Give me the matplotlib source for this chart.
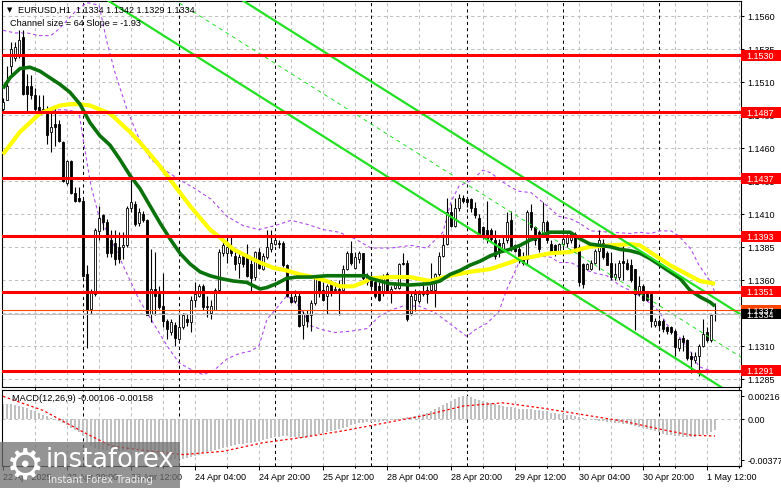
import matplotlib
matplotlib.use("Agg")
import matplotlib.pyplot as plt
import matplotlib.transforms as mtransforms
from matplotlib.patches import Rectangle
import numpy as np

W, H = 781, 489

# hourly candles, 22 Apr 04:00 -> 1 May 14:00
opens = [1.1489, 1.1496, 1.1522, 1.1528, 1.1531, 1.1544, 1.1507, 1.1507, 1.1500, 1.1491,
         1.1489, 1.1486, 1.1472, 1.1478, 1.1478, 1.1464, 1.1433, 1.1450, 1.1426, 1.1422,
         1.1420, 1.1364, 1.1338, 1.1349, 1.1397, 1.1409, 1.1404, 1.1390, 1.1388, 1.1385,
         1.1385, 1.1386, 1.1414, 1.1417, 1.1403, 1.1410, 1.1405, 1.1334, 1.1353, 1.1349,
         1.1340, 1.1329, 1.1320, 1.1326, 1.1315, 1.1324, 1.1330, 1.1328, 1.1345, 1.1348,
         1.1355, 1.1339, 1.1335, 1.1337, 1.1352, 1.1380, 1.1380, 1.1385, 1.1378, 1.1373,
         1.1378, 1.1377, 1.1372, 1.1362, 1.1381, 1.1368, 1.1377, 1.1383, 1.1387, 1.1388,
         1.1388, 1.1371, 1.1347, 1.1344, 1.1348, 1.1326, 1.1334, 1.1333, 1.1342, 1.1359,
         1.1352, 1.1348, 1.1358, 1.1352, 1.1353, 1.1352, 1.1368, 1.1380, 1.1369, 1.1376,
         1.1380, 1.1358, 1.1363, 1.1358, 1.1355, 1.1350, 1.1364, 1.1350, 1.1354, 1.1354,
         1.1373, 1.1373, 1.1335, 1.1345, 1.1344, 1.1349, 1.1349, 1.1352, 1.1352, 1.1364,
         1.1378, 1.1387, 1.1411, 1.1401, 1.1414, 1.1422, 1.1421, 1.1421, 1.1414, 1.1407,
         1.1400, 1.1398, 1.1398, 1.1390, 1.1388, 1.1383, 1.1390, 1.1405, 1.1386, 1.1383,
         1.1377, 1.1376, 1.1411, 1.1400, 1.1396, 1.1395, 1.1404, 1.1387, 1.1386, 1.1382,
         1.1387, 1.1388, 1.1390, 1.1395, 1.1385, 1.1372, 1.1368, 1.1368, 1.1373, 1.1382,
         1.1388, 1.1380, 1.1373, 1.1362, 1.1362, 1.1374, 1.1373, 1.1371, 1.1368, 1.1349,
         1.1355, 1.1349, 1.1349, 1.1326, 1.1329, 1.1329, 1.1324, 1.1324, 1.1321, 1.1308,
         1.1316, 1.1314, 1.1302, 1.1299, 1.1302, 1.1310, 1.1320, 1.1314, 1.1334]
highs = [1.1498, 1.1522, 1.1540, 1.1540, 1.1549, 1.1549, 1.1516, 1.1515, 1.1505, 1.1500,
         1.1500, 1.1492, 1.1487, 1.1492, 1.1481, 1.1465, 1.1451, 1.1451, 1.1430, 1.1430,
         1.1421, 1.1371, 1.1353, 1.1399, 1.1416, 1.1410, 1.1406, 1.1398, 1.1398, 1.1396,
         1.1396, 1.1416, 1.1439, 1.1420, 1.1414, 1.1412, 1.1406, 1.1383, 1.1381, 1.1355,
         1.1365, 1.1330, 1.1330, 1.1328, 1.1334, 1.1335, 1.1334, 1.1348, 1.1358, 1.1357,
         1.1357, 1.1348, 1.1345, 1.1354, 1.1383, 1.1393, 1.1393, 1.1393, 1.1383, 1.1381,
         1.1380, 1.1387, 1.1376, 1.1382, 1.1384, 1.1380, 1.1398, 1.1398, 1.1393, 1.1390,
         1.1389, 1.1372, 1.1350, 1.1352, 1.1350, 1.1336, 1.1337, 1.1345, 1.1363, 1.1363,
         1.1358, 1.1357, 1.1360, 1.1358, 1.1360, 1.1371, 1.1382, 1.1389, 1.1381, 1.1382,
         1.1380, 1.1365, 1.1364, 1.1360, 1.1358, 1.1364, 1.1366, 1.1355, 1.1358, 1.1373,
         1.1380, 1.1375, 1.1350, 1.1353, 1.1352, 1.1358, 1.1355, 1.1373, 1.1365, 1.1381,
         1.1395, 1.1422, 1.1417, 1.1422, 1.1425, 1.1424, 1.1422, 1.1422, 1.1419, 1.1410,
         1.1401, 1.1420, 1.1399, 1.1398, 1.1391, 1.1393, 1.1411, 1.1412, 1.1387, 1.1387,
         1.1381, 1.1413, 1.1417, 1.1401, 1.1398, 1.1419, 1.1405, 1.1390, 1.1387, 1.1388,
         1.1393, 1.1395, 1.1396, 1.1396, 1.1387, 1.1373, 1.1373, 1.1375, 1.1383, 1.1398,
         1.1391, 1.1382, 1.1381, 1.1373, 1.1375, 1.1388, 1.1376, 1.1376, 1.1368, 1.1363,
         1.1357, 1.1350, 1.1349, 1.1331, 1.1330, 1.1330, 1.1325, 1.1325, 1.1323, 1.1316,
         1.1318, 1.1315, 1.1305, 1.1305, 1.1311, 1.1330, 1.1324, 1.1334, 1.1342]
lows = [1.1486, 1.1496, 1.1516, 1.1526, 1.1528, 1.1500, 1.1486, 1.1497, 1.1486, 1.1488,
        1.1486, 1.1463, 1.1457, 1.1461, 1.1464, 1.1434, 1.1432, 1.1425, 1.1419, 1.1419,
        1.1362, 1.1308, 1.1335, 1.1348, 1.1390, 1.1398, 1.1377, 1.1377, 1.1371, 1.1373,
        1.1376, 1.1385, 1.1411, 1.1401, 1.1401, 1.1404, 1.1333, 1.1328, 1.1333, 1.1338,
        1.1324, 1.1315, 1.1318, 1.1310, 1.1314, 1.1323, 1.1325, 1.1320, 1.1339, 1.1347,
        1.1337, 1.1332, 1.1330, 1.1337, 1.1350, 1.1378, 1.1373, 1.1378, 1.1367, 1.1361,
        1.1370, 1.1362, 1.1350, 1.1360, 1.1368, 1.1367, 1.1376, 1.1381, 1.1386, 1.1384,
        1.1370, 1.1347, 1.1342, 1.1342, 1.1324, 1.1315, 1.1324, 1.1321, 1.1341, 1.1347,
        1.1344, 1.1334, 1.1348, 1.1350, 1.1333, 1.1350, 1.1367, 1.1371, 1.1368, 1.1373,
        1.1359, 1.1356, 1.1352, 1.1346, 1.1344, 1.1348, 1.1350, 1.1342, 1.1353, 1.1353,
        1.1371, 1.1329, 1.1333, 1.1336, 1.1342, 1.1348, 1.1342, 1.1350, 1.1339, 1.1363,
        1.1377, 1.1386, 1.1400, 1.1400, 1.1412, 1.1418, 1.1415, 1.1411, 1.1407, 1.1393,
        1.1391, 1.1388, 1.1389, 1.1376, 1.1377, 1.1382, 1.1388, 1.1382, 1.1381, 1.1373,
        1.1371, 1.1371, 1.1398, 1.1386, 1.1381, 1.1393, 1.1388, 1.1381, 1.1378, 1.1381,
        1.1385, 1.1385, 1.1388, 1.1381, 1.1355, 1.1354, 1.1367, 1.1367, 1.1372, 1.1367,
        1.1376, 1.1371, 1.1360, 1.1360, 1.1360, 1.1360, 1.1367, 1.1358, 1.1322, 1.1348,
        1.1344, 1.1344, 1.1324, 1.1324, 1.1322, 1.1320, 1.1319, 1.1319, 1.1302, 1.1306,
        1.1306, 1.1299, 1.1289, 1.1297, 1.1287, 1.1309, 1.1313, 1.1313, 1.1329]
closes = [1.1495, 1.1507, 1.1535, 1.1536, 1.1542, 1.1501, 1.1501, 1.1500, 1.1489, 1.1488,
          1.1486, 1.1470, 1.1476, 1.1476, 1.1465, 1.1435, 1.1450, 1.1426, 1.1420, 1.1420,
          1.1363, 1.1337, 1.1350, 1.1398, 1.1407, 1.1404, 1.1380, 1.1380, 1.1376, 1.1376,
          1.1386, 1.1414, 1.1419, 1.1402, 1.1411, 1.1405, 1.1333, 1.1353, 1.1348, 1.1339,
          1.1329, 1.1323, 1.1328, 1.1316, 1.1324, 1.1333, 1.1328, 1.1345, 1.1349, 1.1355,
          1.1339, 1.1340, 1.1340, 1.1352, 1.1381, 1.1386, 1.1385, 1.1380, 1.1372, 1.1377,
          1.1372, 1.1363, 1.1361, 1.1381, 1.1369, 1.1378, 1.1385, 1.1388, 1.1390, 1.1387,
          1.1371, 1.1348, 1.1343, 1.1348, 1.1325, 1.1334, 1.1329, 1.1342, 1.1361, 1.1350,
          1.1345, 1.1355, 1.1350, 1.1353, 1.1352, 1.1368, 1.1380, 1.1373, 1.1377, 1.1380,
          1.1361, 1.1363, 1.1355, 1.1348, 1.1345, 1.1363, 1.1350, 1.1353, 1.1357, 1.1372,
          1.1372, 1.1330, 1.1348, 1.1349, 1.1349, 1.1350, 1.1352, 1.1357, 1.1364, 1.1378,
          1.1386, 1.1411, 1.1401, 1.1414, 1.1422, 1.1420, 1.1419, 1.1414, 1.1409, 1.1395,
          1.1392, 1.1391, 1.1391, 1.1378, 1.1381, 1.1388, 1.1404, 1.1385, 1.1382, 1.1376,
          1.1373, 1.1411, 1.1400, 1.1390, 1.1383, 1.1404, 1.1390, 1.1382, 1.1381, 1.1387,
          1.1391, 1.1392, 1.1395, 1.1382, 1.1358, 1.1357, 1.1372, 1.1373, 1.1382, 1.1390,
          1.1377, 1.1371, 1.1362, 1.1364, 1.1373, 1.1373, 1.1368, 1.1360, 1.1349, 1.1355,
          1.1345, 1.1345, 1.1329, 1.1329, 1.1326, 1.1323, 1.1321, 1.1320, 1.1309, 1.1315,
          1.1313, 1.1301, 1.1300, 1.1302, 1.1310, 1.1319, 1.1314, 1.1333, 1.1334]

# moving averages (bar index, price)
ma_green_i = [0, 1.75, 4.25, 6.75, 9.25, 11.75, 14.25, 16.75, 19.25, 21.75, 24.25, 26.75, 29.25,
              31.75, 34.25, 36.75, 39.25, 41.75, 44.25, 46.75, 49.25, 51.75, 54.25, 57.6, 60.9,
              64.25, 65.9, 68.4, 70.9, 73.4, 76.75, 80.9, 85.1, 90.9, 91.75, 96.75, 101.75,
              106.75, 109.25, 111.75, 114.25, 116.75, 119.25, 121.75, 124.25, 126.75, 129.25,
              131.75, 134.25, 136.75, 139.25, 141.75, 144.25, 146.75, 149.25, 151.75, 154.25,
              156.75, 159.25, 161.75, 164.25, 166.75, 169.25, 171.75, 174.25, 176.75, 178]
ma_green_p = [1.1505, 1.1513, 1.1520, 1.1521, 1.1518, 1.1513, 1.1508, 1.1502, 1.1493, 1.1479,
              1.1469, 1.1462, 1.1451, 1.1439, 1.1429, 1.1416, 1.1403, 1.1391, 1.1380, 1.1372,
              1.1366, 1.1363, 1.1361, 1.1359, 1.1358, 1.1353, 1.1354, 1.1357, 1.1361, 1.1362,
              1.1362, 1.1363, 1.1363, 1.1363, 1.1361, 1.1357, 1.1356, 1.1357, 1.1359, 1.1364,
              1.1367, 1.1371, 1.1374, 1.1378, 1.1381, 1.1383, 1.1386, 1.1390, 1.1393, 1.1396,
              1.1396, 1.1396, 1.1391, 1.1387, 1.1386, 1.1385, 1.1383, 1.1382, 1.1380, 1.1376,
              1.1371, 1.1366, 1.1361, 1.1352, 1.1347, 1.1343, 1.1340]
ma_yellow_i = [0, 1.75, 4.25, 6.75, 9.25, 11.75, 14.25, 16.75, 19.25, 21.75, 24.25, 26.75,
               29.25, 31.75, 34.25, 36.75, 39.25, 41.75, 44.25, 46.75, 49.25, 51.75, 54.25,
               57.6, 60.9, 64.25, 67.6, 70.9, 74.25, 77.6, 80.9, 84.25, 87.6, 90.9, 91.75,
               96.75, 101.75, 106.75, 109.25, 111.75, 116.75, 121.75, 126.75, 129.25, 131.75,
               136.75, 141.75, 146.75, 151.75, 156.75, 159.25, 161.75, 164.25, 166.75, 169.25,
               171.75, 174.25, 178]
ma_yellow_p = [1.1455, 1.1462, 1.1472, 1.1479, 1.1486, 1.1489, 1.1492, 1.1493, 1.1493, 1.1492,
               1.1489, 1.1486, 1.1479, 1.1472, 1.1464, 1.1455, 1.1446, 1.1436, 1.1426, 1.1416,
               1.1407, 1.1398, 1.1392, 1.1383, 1.1378, 1.1373, 1.1369, 1.1367, 1.1364, 1.1362,
               1.1359, 1.1355, 1.1355, 1.1359, 1.1361, 1.1362, 1.1362, 1.1359, 1.1361, 1.1363,
               1.1366, 1.1368, 1.1373, 1.1376, 1.1377, 1.1380, 1.1381, 1.1385, 1.1386, 1.1387,
               1.1386, 1.1381, 1.1376, 1.1371, 1.1367, 1.1363, 1.1359, 1.1357]

# envelope bands (bar index, price)
band_up_i = [0, 3, 6, 9, 12, 14, 18, 21, 24, 26, 28, 31, 34, 37, 40, 44, 48, 52, 56, 60, 64,
             68, 72, 76, 80, 84, 88, 92, 97, 102, 106, 110, 112, 114, 117, 120, 122, 124, 127,
             129, 132, 134, 136, 139, 142, 144, 147, 152, 157, 159, 162, 164, 167, 169, 172,
             174, 177, 178]
band_up_p = [1.1549, 1.1547, 1.1547, 1.1545, 1.1545, 1.1550, 1.1563, 1.1570, 1.1568, 1.1540,
             1.1517, 1.1489, 1.1467, 1.1451, 1.1444, 1.1436, 1.1429, 1.1421, 1.1408, 1.1401,
             1.1398, 1.1401, 1.1405, 1.1402, 1.1398, 1.1396, 1.1391, 1.1384, 1.1384, 1.1386,
             1.1384, 1.1396, 1.1419, 1.1431, 1.1435, 1.1443, 1.1441, 1.1436, 1.1430, 1.1427,
             1.1426, 1.1421, 1.1416, 1.1408, 1.1406, 1.1403, 1.1397, 1.1396, 1.1395, 1.1396,
             1.1395, 1.1397, 1.1397, 1.1393, 1.1383, 1.1371, 1.1358, 1.1350]
band_dn_i = [0, 5, 10, 15, 19, 20, 22, 24, 27, 30, 34, 38, 41, 44, 47, 50, 53, 56, 59, 62, 64,
             66, 68, 71, 74, 77, 80, 83, 87, 91, 94, 97, 100, 104, 108, 112, 116, 118, 121, 124,
             126, 129, 131, 134, 137, 139, 142, 145, 148, 151, 154, 158, 161, 164, 166, 169,
             172, 174, 177, 178]
band_dn_p = [1.1487, 1.1486, 1.1488, 1.1489, 1.1487, 1.1467, 1.1431, 1.1408, 1.1391, 1.1371,
             1.1345, 1.1325, 1.1310, 1.1297, 1.1292, 1.1288, 1.1292, 1.1300, 1.1304, 1.1306,
             1.1310, 1.1330, 1.1337, 1.1348, 1.1340, 1.1325, 1.1322, 1.1320, 1.1321, 1.1323,
             1.1332, 1.1337, 1.1340, 1.1340, 1.1335, 1.1326, 1.1317, 1.1322, 1.1327, 1.1336,
             1.1353, 1.1373, 1.1377, 1.1378, 1.1377, 1.1373, 1.1373, 1.1368, 1.1365, 1.1363,
             1.1356, 1.1350, 1.1344, 1.1336, 1.1326, 1.1317, 1.1305, 1.1294, 1.1291, 1.1289]

# regression channel: (bar index, price) of upper border, and channel width
chan_i = [0, 185]
chan_up = [1.16861, 1.13326]
chan_width = 0.00644

# horizontal levels
levels = [1.1530, 1.1487, 1.1437, 1.1393, 1.1351, 1.1291]
ask_level = 1.1337
bid_level = 1.1334

# MACD(12,26,9) main histogram and signal
macd_hist = [0.00140, 0.00138, 0.00135, 0.00130, 0.00125, 0.00115, 0.00100, 0.00085, 0.00070, 0.00055,
             0.00040, 0.00025, 0.00010, -0.00005, -0.00020, -0.00040, -0.00060, -0.00080, -0.00100, -0.00120,
             -0.00160, -0.00210, -0.00250, -0.00270, -0.00280, -0.00285, -0.00290, -0.00295, -0.00300, -0.00300,
             -0.00295, -0.00290, -0.00285, -0.00280, -0.00280, -0.00285, -0.00310, -0.00330, -0.00345, -0.00355,
             -0.00365, -0.00372, -0.00377, -0.00375, -0.00372, -0.00368, -0.00360, -0.00350, -0.00340, -0.00330,
             -0.00320, -0.00310, -0.00300, -0.00290, -0.00280, -0.00270, -0.00260, -0.00250, -0.00240, -0.00235,
             -0.00230, -0.00225, -0.00220, -0.00210, -0.00200, -0.00195, -0.00190, -0.00180, -0.00170, -0.00165,
             -0.00160, -0.00160, -0.00165, -0.00170, -0.00175, -0.00175, -0.00170, -0.00160, -0.00150, -0.00140,
             -0.00130, -0.00120, -0.00110, -0.00100, -0.00090, -0.00080, -0.00070, -0.00060, -0.00050, -0.00040,
             -0.00035, -0.00030, -0.00030, -0.00030, -0.00025, -0.00020, -0.00015, -0.00010, -0.00005, 0.00000,
             0.00010, 0.00015, 0.00020, 0.00030, 0.00040, 0.00050, 0.00060, 0.00070, 0.00090, 0.00110,
             0.00130, 0.00150, 0.00170, 0.00190, 0.00205, 0.00216, 0.00210, 0.00200, 0.00190, 0.00180,
             0.00170, 0.00160, 0.00150, 0.00140, 0.00130, 0.00120, 0.00115, 0.00110, 0.00100, 0.00095,
             0.00090, 0.00095, 0.00090, 0.00085, 0.00080, 0.00075, 0.00070, 0.00060, 0.00055, 0.00050,
             0.00045, 0.00040, 0.00035, 0.00025, 0.00015, 0.00005, 0.00000, -0.00005, -0.00010, -0.00015,
             -0.00020, -0.00025, -0.00030, -0.00035, -0.00040, -0.00045, -0.00050, -0.00055, -0.00065, -0.00075,
             -0.00085, -0.00095, -0.00105, -0.00115, -0.00125, -0.00135, -0.00145, -0.00150, -0.00155, -0.00160,
             -0.00165, -0.00170, -0.00170, -0.00165, -0.00160, -0.00150, -0.00140, -0.00125, -0.00106]
macd_sig_i = [0, 10, 20, 27, 35, 45, 55, 65, 75, 85, 95, 105, 115, 125, 135, 145, 155, 165, 172, 178]
macd_sig_v = [0.0021, 0.0008, -0.0012, -0.0025, -0.0029, -0.0033, -0.0030, -0.0022, -0.0017, -0.0011,
              -0.0004, 0.0003, 0.0012, 0.0015, 0.0010, 0.0004, -0.0002, -0.0010, -0.0015, -0.00158]

# axis labels
price_ticks = [1.1285, 1.1310, 1.1335, 1.1360, 1.1385, 1.1410, 1.1435, 1.1460, 1.1485, 1.1510, 1.1535, 1.1560]
time_labels = ["22 Apr 2025", "22 Apr 20:00", "23 Apr 12:00", "24 Apr 04:00", "24 Apr 20:00",
               "25 Apr 12:00", "28 Apr 04:00", "28 Apr 20:00", "29 Apr 12:00", "30 Apr 04:00",
               "30 Apr 20:00", "1 May 12:00"]
day_starts = [20, 44, 68, 92, 116, 140, 164]

FONT = ["Liberation Sans", "DejaVu Sans"]
GRID = "#c0c0c0"
RED = "#ff0000"


def fx(x):
    return x / W


def fy(y):
    return 1 - y / H


fig = plt.figure(figsize=(W / 100, H / 100), dpi=100)
ax = fig.add_axes([fx(2), fy(388), fx(741) - fx(2), fy(2) - fy(388)])
am = fig.add_axes([fx(2), fy(467), fx(741) - fx(2), fy(391) - fy(467)], sharex=ax)

n = len(closes)
x = np.arange(n)
xlim = (-0.25, 184.5)

# ---- price panel ----
ax.set_xlim(*xlim)
ax.set_ylim(1.12787, 1.15712)
for t in price_ticks:
    ax.axhline(t, color=GRID, lw=0.75, ls=(0, (3, 3)), zorder=0)
for g in range(8, 185, 8):
    ax.axvline(g, color=GRID, lw=0.75, ls=(0, (3, 3)), zorder=0)
for d in day_starts:
    ax.axvline(d, color="black", lw=0.75, ls=(0, (3, 3)), zorder=1)
    am.axvline(d, color="black", lw=0.75, ls=(0, (3, 3)), zorder=1)

ax.plot(band_up_i, band_up_p, color="#b04cf0", lw=0.8, ls=(0, (3, 2.5)), zorder=2)
ax.plot(band_dn_i, band_dn_p, color="#b04cf0", lw=0.8, ls=(0, (3, 2.5)), zorder=2)

o = np.array(opens)
c = np.array(closes)
hi = np.maximum(np.array(highs), np.maximum(o, c))
lo = np.minimum(np.array(lows), np.minimum(o, c))
up = c >= o
ax.vlines(x, lo, hi, color="black", lw=0.8, zorder=3)
blo = np.minimum(o, c)
bh = np.maximum(np.abs(c - o), 0.00003)
ax.bar(x[up], bh[up], bottom=blo[up], width=0.7, color="white", edgecolor="black", lw=0.6, zorder=4)
ax.bar(x[~up], bh[~up], bottom=blo[~up], width=0.7, color="black", edgecolor="black", lw=0.6, zorder=4)

ax.plot(ma_yellow_i, ma_yellow_p, color="#ffff00", lw=3.0, solid_capstyle="butt", zorder=5)
ax.plot(ma_green_i, ma_green_p, color="#0a720a", lw=2.6, solid_capstyle="butt", zorder=6)

cu = np.array(chan_up)
ax.plot(chan_i, cu, color="#22e022", lw=1.6, zorder=6)
ax.plot(chan_i, cu - chan_width, color="#22e022", lw=1.6, zorder=6)
ax.plot(chan_i, cu - chan_width / 2, color="#22e022", lw=0.7, ls=(0, (4, 4)), zorder=6)

for lv in levels:
    ax.axhline(lv, color=RED, lw=2.2, zorder=7)
ax.axhline(bid_level, color="#c0c0c0", lw=0.8, zorder=7)
ax.axhline(ask_level, color="#ff4500", lw=0.8, zorder=7)

ax.yaxis.tick_right()
ax.set_yticks(price_ticks)
ax.set_yticklabels([f"{t:.4f}" for t in price_ticks])
ax.tick_params(axis="y", direction="out", length=2.5, width=0.75, pad=2,
               labelsize=6.5, labelfontfamily=FONT)
ax.tick_params(axis="x", bottom=False, labelbottom=False)
for s in ax.spines.values():
    s.set_linewidth(0.8)

# value boxes on the right scale
blend = mtransforms.blended_transform_factory(fig.transFigure, ax.transData)
box_h = 0.00082


def value_box(level, color, txt_color="white"):
    ax.add_patch(Rectangle((fx(741), level - box_h / 2), fx(40), box_h, transform=blend,
                           facecolor=color, edgecolor="none", clip_on=False, zorder=20))
    ax.text(fx(746), level, f"{level:.4f}", transform=blend, color=txt_color, fontsize=6.5,
            family=FONT, va="center", ha="left", clip_on=False, zorder=21)


for lv in levels:
    value_box(lv, RED)
value_box(ask_level, "#ff4500")
value_box(bid_level, "black")

# header
ax.text(fx(7), fy(10), "\u25bc", transform=fig.transFigure, fontsize=5, family="DejaVu Sans",
        va="center", ha="left", zorder=25)
ax.text(fx(18), fy(10), "EURUSD,H1  1.1334 1.1342 1.1329 1.1334", transform=fig.transFigure,
        fontsize=6.6, family=FONT, va="center", ha="left", zorder=25)
ax.text(fx(10), fy(23), "Channel size = 64 Slope = -1.93", transform=fig.transFigure,
        fontsize=6.6, family=FONT, va="center", ha="left", zorder=25)

# ---- MACD panel ----
am.set_ylim(-0.00436, 0.00269)
am.axhline(0, color=GRID, lw=0.75, ls=(0, (3, 3)), zorder=0)
for g in range(8, 185, 8):
    am.axvline(g, color=GRID, lw=0.75, ls=(0, (3, 3)), zorder=0)
am.bar(x, macd_hist, width=0.55, color="#c0c0c0", zorder=2)
am.plot(macd_sig_i, macd_sig_v, color="#ff0000", lw=0.9, ls=(0, (2, 2)), zorder=3)
am.text(fx(12), fy(399), "MACD(12,26,9) -0.00106 -0.00158", transform=fig.transFigure,
        fontsize=6.6, family=FONT, va="center", ha="left", zorder=25)
am.yaxis.tick_right()
am.set_yticks([0.00216, 0.0, -0.00377])
am.set_yticklabels(["0.00216", "0.00", "-0.00377"])
am.tick_params(axis="y", direction="out", length=2.5, width=0.75, pad=2,
               labelsize=6.5, labelfontfamily=FONT)
am.set_xticks(list(range(0, 177, 16)))
am.set_xticklabels(time_labels, ha="left")
am.set_xticks(list(range(8, 185, 16)), minor=True)
am.tick_params(axis="x", which="major", direction="out", length=3, width=0.75, pad=1.5,
               labelsize=6.5, labelfontfamily=FONT)
am.tick_params(axis="x", which="minor", direction="out", length=1.5, width=0.75)
am.set_xlim(*xlim)
for s in am.spines.values():
    s.set_linewidth(0.8)

# watermark logo
fig.patches.append(Rectangle((0, 0), fx(180), fy(443), transform=fig.transFigure,
                             facecolor="#707070", alpha=0.75, edgecolor="none", zorder=30))
fig.text(fx(25), fy(466), "\u2699", fontsize=31, family="DejaVu Sans", color="white",
         ha="center", va="center", zorder=31)
fig.text(fx(46), fy(460), "instaforex", fontsize=18.5, family="DejaVu Sans", color="white",
         ha="left", va="center", zorder=31)
fig.text(fx(48), fy(480), "Instant Forex Trading", fontsize=7.2, family="DejaVu Sans",
         color="#eeeeee", ha="left", va="center", zorder=31)

fig.savefig("out.png", dpi=100)
